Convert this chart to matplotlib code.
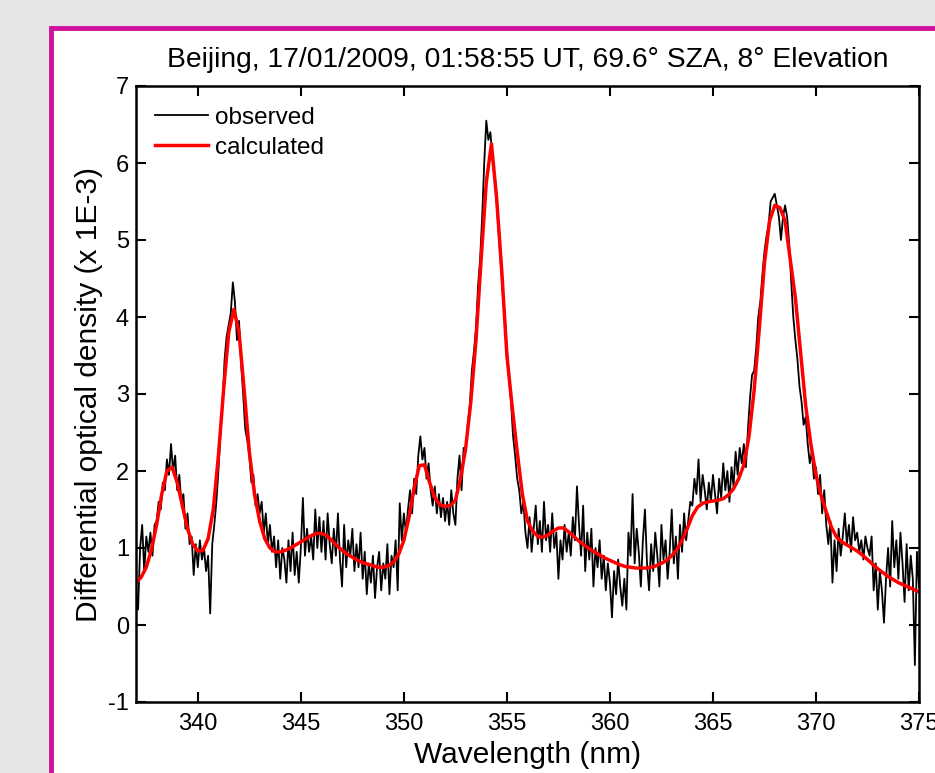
import numpy as np
import matplotlib
matplotlib.use("Agg")
import matplotlib.pyplot as plt
from matplotlib.patches import Rectangle

plt.rcParams['font.family'] = ['Liberation Sans', 'DejaVu Sans']
plt.rcParams['axes.unicode_minus'] = False

# observed spectrum, 337.0 - 375.0 nm every 0.1 nm (values x 1E-3)
obs_start, obs_step = 337.0, 0.1
observed = [
    0.45, 0.20, 1.00, 1.30, 0.70, 1.15, 0.95, 1.20, 0.90, 1.30,   # 337
    1.35, 1.60, 1.50, 1.85, 1.75, 2.15, 1.95, 2.35, 2.00, 2.20,   # 338
    1.75, 1.95, 1.60, 1.70, 1.25, 1.45, 1.05, 1.15, 0.65, 1.05,   # 339
    0.75, 1.10, 0.85, 1.00, 0.70, 0.90, 0.15, 1.05, 1.30, 1.60,   # 340
    2.00, 2.50, 2.90, 3.45, 3.75, 3.90, 4.05, 4.45, 4.20, 3.70,   # 341
    3.95, 3.40, 3.00, 2.55, 2.40, 2.20, 1.85, 1.95, 1.55, 1.70,   # 342
    1.45, 1.60, 1.20, 1.45, 1.05, 1.30, 0.95, 1.15, 0.75, 1.10,   # 343
    0.60, 1.00, 0.85, 0.55, 1.10, 0.70, 1.20, 0.65, 0.95, 0.55,   # 344
    1.00, 1.65, 0.90, 1.25, 0.95, 1.15, 0.85, 1.50, 1.00, 1.40,   # 345
    0.95, 1.35, 0.85, 1.45, 1.05, 0.80, 1.25, 0.90, 1.45, 0.85,   # 346
    0.50, 1.30, 0.75, 1.10, 0.90, 1.25, 0.70, 1.05, 0.75, 1.20,   # 347
    0.60, 0.95, 0.40, 0.80, 0.55, 0.90, 0.35, 0.75, 0.95, 0.45,   # 348
    0.80, 0.60, 1.05, 0.40, 0.90, 0.75, 1.10, 0.45, 1.58, 1.10,   # 349
    1.45, 1.20, 1.50, 1.75, 1.45, 1.90, 1.70, 2.20, 2.45, 2.15,   # 350
    2.30, 1.90, 2.10, 1.75, 1.55, 1.80, 1.45, 1.70, 1.40, 1.65,   # 351
    1.35, 1.60, 1.30, 1.75, 1.45, 1.30, 1.90, 2.20, 1.75, 2.30,   # 352
    2.25, 2.60, 2.85, 3.30, 3.55, 3.85, 4.40, 4.75, 5.30, 6.00,   # 353
    6.55, 6.30, 6.40, 6.05, 5.80, 5.50, 5.10, 4.70, 4.30, 4.00,   # 354
    3.60, 3.20, 2.90, 2.45, 2.20, 1.90, 1.75, 1.45, 1.60, 1.20,   # 355
    1.00, 1.40, 0.95, 1.25, 1.55, 1.05, 1.35, 0.95, 1.60, 1.10,   # 356
    1.30, 0.95, 1.45, 1.00, 1.20, 0.60, 1.10, 0.85, 1.30, 0.95,   # 357
    1.20, 0.90, 1.40, 1.10, 1.80, 1.30, 0.90, 1.55, 0.70, 1.20,   # 358
    0.85, 1.25, 0.50, 1.00, 0.75, 1.10, 0.60, 0.90, 0.45, 0.80,   # 359
    0.55, 0.10, 0.70, 0.40, 0.85, 0.50, 0.25, 0.60, 0.20, 1.20,   # 360
    0.90, 1.70, 0.80, 1.25, 0.95, 0.50, 1.10, 1.50, 0.80, 0.45,   # 361
    1.05, 0.70, 1.20, 0.90, 0.50, 1.30, 0.85, 1.10, 0.60, 0.95,   # 362
    1.50, 0.80, 1.15, 0.60, 1.30, 0.95, 1.45, 1.10, 1.35, 1.60,   # 363
    1.55, 1.90, 1.70, 2.15, 1.60, 1.95, 1.75, 1.50, 1.85, 1.60,   # 364
    1.95, 1.70, 1.45, 1.90, 1.65, 2.10, 1.75, 2.00, 1.60, 2.05,   # 365
    1.80, 2.25, 1.95, 2.30, 2.10, 2.35, 2.05, 2.55, 2.95, 3.25,   # 366
    3.30, 3.60, 4.00, 4.20, 4.55, 4.85, 5.05, 5.20, 5.50, 5.55,   # 367
    5.60, 5.45, 5.30, 5.00, 5.30, 5.45, 5.30, 4.95, 4.45, 4.00,   # 368
    3.70, 3.45, 3.10, 2.90, 2.60, 2.70, 2.35, 2.10, 2.25, 1.90,   # 369
    2.05, 1.70, 1.95, 1.45, 1.75, 1.30, 1.05, 1.35, 0.55, 1.10,   # 370
    0.70, 1.25, 0.90, 1.15, 1.45, 1.05, 1.30, 0.95, 1.40, 1.10,   # 371
    1.20, 0.95, 1.10, 0.85, 1.15, 1.00, 0.90, 1.15, 0.45, 0.80,   # 372
    0.20, 0.70, 0.45, 0.03, 0.60, 1.00, 0.50, 1.35, 0.75, 1.10,   # 373
    0.60, 1.20, 0.80, 0.30, 1.05, 0.45, 0.90, 0.60, -0.52, 0.95,  # 374
    0.50,                                                         # 375
]

# fitted spectrum, 337.0 - 375.0 nm every 0.25 nm
calc_start, calc_step = 337.0, 0.25
calculated = [
    0.55, 0.62, 0.75, 0.98,   # 337
    1.30, 1.70, 2.00, 2.05,   # 338
    1.85, 1.55, 1.25, 1.05,   # 339
    0.96, 0.97, 1.12, 1.50,   # 340
    2.20, 3.05, 3.80, 4.10,   # 341
    3.80, 3.05, 2.25, 1.70,   # 342
    1.35, 1.12, 1.00, 0.95,   # 343
    0.95, 0.97, 1.00, 1.04,   # 344
    1.08, 1.12, 1.16, 1.19,   # 345
    1.19, 1.16, 1.10, 1.03,   # 346
    0.97, 0.92, 0.88, 0.84,   # 347
    0.81, 0.79, 0.77, 0.75,   # 348
    0.75, 0.77, 0.82, 0.92,   # 349
    1.10, 1.40, 1.78, 2.07,   # 350
    2.08, 1.85, 1.65, 1.56,   # 351
    1.54, 1.55, 1.62, 1.90,   # 352
    2.30, 2.90, 3.70, 4.75,   # 353
    5.75, 6.25, 5.55, 4.60,   # 354
    3.50, 2.85, 2.25, 1.70,   # 355
    1.35, 1.22, 1.15, 1.14,   # 356
    1.17, 1.22, 1.26, 1.26,   # 357
    1.21, 1.15, 1.09, 1.04,   # 358
    0.99, 0.95, 0.91, 0.87,   # 359
    0.84, 0.81, 0.78, 0.76,   # 360
    0.75, 0.74, 0.74, 0.74,   # 361
    0.75, 0.77, 0.80, 0.84,   # 362
    0.90, 0.98, 1.10, 1.25,   # 363
    1.42, 1.53, 1.58, 1.60,   # 364
    1.61, 1.62, 1.64, 1.69,   # 365
    1.77, 1.90, 2.08, 2.45,   # 366
    3.05, 3.85, 4.70, 5.25,   # 367
    5.45, 5.42, 5.25, 4.75,   # 368
    4.25, 3.55, 2.85, 2.35,   # 369
    1.95, 1.68, 1.47, 1.27,   # 370
    1.14, 1.08, 1.04, 1.00,   # 371
    0.96, 0.91, 0.85, 0.79,   # 372
    0.73, 0.68, 0.63, 0.59,   # 373
    0.55, 0.52, 0.49, 0.46,   # 374
    0.43,                     # 375
]

title = "Beijing, 17/01/2009, 01:58:55 UT, 69.6\u00b0 SZA, 8\u00b0 Elevation"
x_ticks = [340, 345, 350, 355, 360, 365, 370, 375]
y_ticks = [-1, 0, 1, 2, 3, 4, 5, 6, 7]

wl_obs = obs_start + obs_step * np.arange(len(observed))
wl_calc = calc_start + calc_step * np.arange(len(calculated))

fig = plt.figure(figsize=(9.35, 7.73), dpi=100)
fig.patch.set_facecolor('#e6e6e6')

# white panel with magenta border (runs off the right and bottom edges)
fig.patches.append(Rectangle((51 / 935, -0.05), 1.0, 0.05 + 1 - 28 / 773,
                             transform=fig.transFigure, facecolor='white',
                             edgecolor='#d1109b', linewidth=3.5, zorder=-5))

ax = fig.add_axes([136 / 935, 1 - 702 / 773, 783 / 935, 616 / 773])
ax.plot(wl_obs, observed, color='black', linewidth=1.3, label='observed')
ax.plot(wl_calc, calculated, color='#ff0000', linewidth=2.5, label='calculated')

ax.set_xlim(337, 375)
ax.set_ylim(-1, 7)
ax.set_xticks(x_ticks)
ax.set_yticks(y_ticks)
ax.tick_params(direction='in', length=7, width=1.5, top=True, right=True,
               labelsize=17)
ax.tick_params(axis='x', pad=8)
ax.tick_params(axis='y', pad=5)
for s in ax.spines.values():
    s.set_linewidth(1.8)

ax.set_title(title, fontsize=20.3, pad=14)
ax.set_xlabel('Wavelength (nm)', fontsize=21.5, labelpad=4)
ax.set_ylabel('Differential optical density (x 1E-3)', fontsize=21.5, labelpad=4)

ax.legend(loc='upper left', bbox_to_anchor=(0.024, 0.966), frameon=False,
          fontsize=17.5, handlelength=2.2, handletextpad=0.28,
          labelspacing=0.32, borderpad=0, borderaxespad=0)

fig.savefig('out.png', dpi=100, facecolor=fig.get_facecolor())
